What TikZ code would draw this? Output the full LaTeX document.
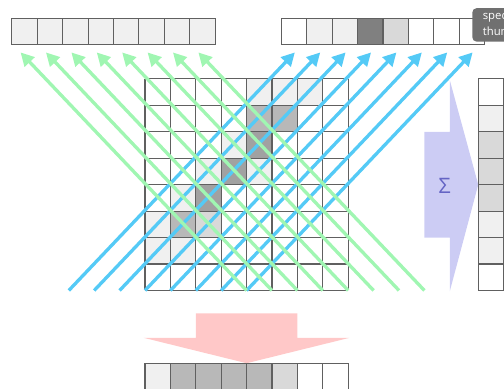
\documentclass[tikz,border=0pt]{standalone}
\usepackage{fontspec}
\setmainfont{Open Sans}
\usepackage{xcolor}
\usetikzlibrary{arrows.meta}

\definecolor{gridgray}{RGB}{96,96,96}
\definecolor{projgreen}{RGB}{160,246,178}
\definecolor{projblue}{RGB}{84,202,246}
\definecolor{sumred}{RGB}{255,200,200}
\definecolor{sumblue}{RGB}{204,204,244}
\definecolor{sigmatext}{RGB}{100,100,196}
\definecolor{tipgray}{RGB}{112,112,112}
\definecolor{tone1}{gray}{0.94}
\definecolor{tone2}{gray}{0.85}
\definecolor{tone3}{gray}{0.72}
\definecolor{tone4}{gray}{0.63}
\definecolor{tone5}{gray}{0.50}

\begin{document}
\begin{tikzpicture}[
  x=19.06pt, y=19.85pt,
  gridline/.style={draw=gridgray,line width=0.8pt,xstep=19.06pt,ystep=19.85pt},
  bin/.style={draw=gridgray,line width=0.8pt,minimum width=19.06pt,minimum height=19.85pt,inner sep=0pt},
  garrow/.style={draw=projgreen,line width=2.5pt,-{Triangle[length=10pt,width=10pt]}},
  barrow/.style={draw=projblue,line width=2.5pt,-{Triangle[length=10pt,width=10pt]}},
  tipbox/.style={fill=tipgray,rounded corners=3pt,text=white,align=left,inner xsep=7.8pt,minimum height=25pt,font=\fontsize{8.5}{12}\selectfont}
]
  \useasboundingbox (-5.709,-3.698) rectangle (14.134,10.981);
  % image pixels
  \fill[tone1] (4,7) rectangle (5,8);
  \fill[tone1] (5,7) rectangle (6,8);
  \fill[tone1] (6,7) rectangle (7,8);
  \fill[tone3] (4,6) rectangle (5,7);
  \fill[tone3] (5,6) rectangle (6,7);
  \fill[tone1] (3,5) rectangle (4,6);
  \fill[tone4] (4,5) rectangle (5,6);
  \fill[tone1] (2,4) rectangle (3,5);
  \fill[tone4] (3,4) rectangle (4,5);
  \fill[tone1] (4,4) rectangle (5,5);
  \fill[tone1] (1,3) rectangle (2,4);
  \fill[tone4] (2,3) rectangle (3,4);
  \fill[tone1] (0,2) rectangle (1,3);
  \fill[tone3] (1,2) rectangle (2,3);
  \fill[tone2] (2,2) rectangle (3,3);
  \fill[tone1] (0,1) rectangle (1,2);
  \fill[tone1] (1,1) rectangle (2,2);
  \draw[gridline] (0,0) grid (8,8);
  % sum arrows
  \fill[sumred] (2,-0.87) -- (6,-0.87) -- (6,-1.79) -- (8.05,-1.79) -- (4,-2.75) -- (-0.05,-1.79) -- (2,-1.79) -- cycle;
  \fill[sumblue] (11,2) -- (11,6) -- (12,6) -- (12,7.95) -- (13.12,4) -- (12,-0.03) -- (12,2) -- cycle;
  \node[text=sigmatext,font=\fontsize{16}{16}\selectfont] (sigma) at (11.8,3.94) {Σ};
  % projection bins
  \node[bin,fill=tone1] (gbin0) at (-4.74,9.79) {};
  \node[bin,fill=tone1] (gbin1) at (-3.74,9.79) {};
  \node[bin,fill=tone1] (gbin2) at (-2.74,9.79) {};
  \node[bin,fill=tone1] (gbin3) at (-1.74,9.79) {};
  \node[bin,fill=tone1] (gbin4) at (-0.74,9.79) {};
  \node[bin,fill=tone1] (gbin5) at (0.26,9.79) {};
  \node[bin,fill=tone1] (gbin6) at (1.26,9.79) {};
  \node[bin,fill=tone1] (gbin7) at (2.26,9.79) {};
  \node[bin,fill=white] (bbin0) at (5.87,9.79) {};
  \node[bin,fill=tone1] (bbin1) at (6.87,9.79) {};
  \node[bin,fill=tone1] (bbin2) at (7.87,9.79) {};
  \node[bin,fill=tone5] (bbin3) at (8.87,9.79) {};
  \node[bin,fill=tone2] (bbin4) at (9.87,9.79) {};
  \node[bin,fill=white] (bbin5) at (10.87,9.79) {};
  \node[bin,fill=white] (bbin6) at (11.87,9.79) {};
  \node[bin,fill=white] (bbin7) at (12.87,9.79) {};
  \node[bin,fill=white] (rbin0) at (13.62,7.5) {};
  \node[bin,fill=tone1] (rbin1) at (13.62,6.5) {};
  \node[bin,fill=tone2] (rbin2) at (13.62,5.5) {};
  \node[bin,fill=tone2] (rbin3) at (13.62,4.5) {};
  \node[bin,fill=tone2] (rbin4) at (13.62,3.5) {};
  \node[bin,fill=tone1] (rbin5) at (13.62,2.5) {};
  \node[bin,fill=tone1] (rbin6) at (13.62,1.5) {};
  \node[bin,fill=white] (rbin7) at (13.62,0.5) {};
  \node[bin,fill=tone1] (cbin0) at (0.5,-3.26) {};
  \node[bin,fill=tone3] (cbin1) at (1.5,-3.26) {};
  \node[bin,fill=tone3] (cbin2) at (2.5,-3.26) {};
  \node[bin,fill=tone3] (cbin3) at (3.5,-3.26) {};
  \node[bin,fill=tone3] (cbin4) at (4.5,-3.26) {};
  \node[bin,fill=tone2] (cbin5) at (5.5,-3.26) {};
  \node[bin,fill=white] (cbin6) at (6.5,-3.26) {};
  \node[bin,fill=white] (cbin7) at (7.5,-3.26) {};
  % rays
  \coordinate (bfoot0) at (-3,0);
  \coordinate (bfoot1) at (-2,0);
  \coordinate (bfoot2) at (-1,0);
  \coordinate (bfoot3) at (0,0);
  \coordinate (bfoot4) at (1,0);
  \coordinate (bfoot5) at (2,0);
  \coordinate (bfoot6) at (3,0);
  \coordinate (bfoot7) at (4,0);
  \coordinate (btip0) at (5.9,9);
  \coordinate (btip1) at (6.9,9);
  \coordinate (btip2) at (7.9,9);
  \coordinate (btip3) at (8.9,9);
  \coordinate (btip4) at (9.9,9);
  \coordinate (btip5) at (10.9,9);
  \coordinate (btip6) at (11.9,9);
  \coordinate (btip7) at (12.9,9);
  \coordinate (gfoot0) at (4,0);
  \coordinate (gfoot1) at (5,0);
  \coordinate (gfoot2) at (6,0);
  \coordinate (gfoot3) at (7,0);
  \coordinate (gfoot4) at (8,0);
  \coordinate (gfoot5) at (9,0);
  \coordinate (gfoot6) at (10,0);
  \coordinate (gfoot7) at (11,0);
  \coordinate (gtip0) at (-4.9,9);
  \coordinate (gtip1) at (-3.9,9);
  \coordinate (gtip2) at (-2.9,9);
  \coordinate (gtip3) at (-1.9,9);
  \coordinate (gtip4) at (-0.9,9);
  \coordinate (gtip5) at (0.1,9);
  \coordinate (gtip6) at (1.1,9);
  \coordinate (gtip7) at (2.1,9);
  \draw[barrow] (bfoot0) -- (btip0);
  \draw[barrow] (bfoot1) -- (btip1);
  \draw[barrow] (bfoot2) -- (btip2);
  \draw[barrow] (bfoot3) -- (btip3);
  \draw[barrow] (bfoot4) -- (btip4);
  \draw[barrow] (bfoot5) -- (btip5);
  \draw[barrow] (bfoot6) -- (btip6);
  \draw[barrow] (bfoot7) -- (btip7);
  \draw[garrow] (gfoot0) -- (gtip0);
  \draw[garrow] (gfoot1) -- (gtip1);
  \draw[garrow] (gfoot2) -- (gtip2);
  \draw[garrow] (gfoot3) -- (gtip3);
  \draw[garrow] (gfoot4) -- (gtip4);
  \draw[garrow] (gfoot5) -- (gtip5);
  \draw[garrow] (gfoot6) -- (gtip6);
  \draw[garrow] (gfoot7) -- (gtip7);
  % tooltip
  \node[tipbox,anchor=north west] (note) at (12.88,10.68) {spec\\thum};
\end{tikzpicture}
\end{document}
